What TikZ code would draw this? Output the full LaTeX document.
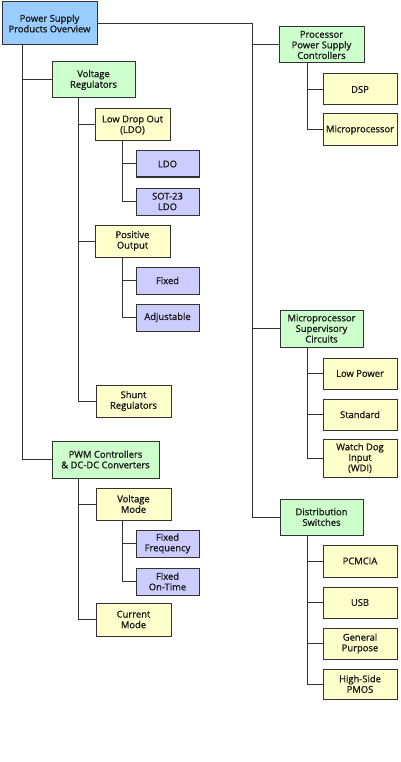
\documentclass[tikz,border=0pt]{standalone}
\usepackage{fontspec}
\setmainfont{Open Sans}[FakeBold=1.2]
\definecolor{cblue}{RGB}{153,204,255}
\definecolor{cgreen}{RGB}{204,255,204}
\definecolor{cyel}{RGB}{255,255,204}
\definecolor{cvio}{RGB}{204,204,255}
\definecolor{cline}{RGB}{50,50,50}
\definecolor{cbord}{RGB}{50,50,50}
\begin{document}
\begin{tikzpicture}[x=1pt,y=-1pt,
  box/.style={draw=cbord,line width=1pt,inner sep=0pt,align=center,
    font=\fontsize{9.4}{10.6}\selectfont,text=black!90},
  conn/.style={draw=cline,line width=1pt}]
\useasboundingbox[fill=white] (0,0) rectangle (400,762);
% left tree
\node[box,fill=cblue,minimum width=95,minimum height=43] (root) at (49.5,23.5) {Power Supply\\Products Overview};
\node[box,fill=cgreen,minimum width=83,minimum height=36] (vr) at (93.5,80) {Voltage\\Regulators};
\node[box,fill=cyel,minimum width=75,minimum height=32] (ldog) at (132.5,125) {Low Drop Out\\(LDO)};
\node[box,fill=cvio,minimum width=63,minimum height=26] (ldo) at (167.5,164) {LDO};
\node[box,fill=cvio,minimum width=63,minimum height=27] (sot) at (167.5,201.5) {SOT-23\\LDO};
\node[box,fill=cyel,minimum width=75,minimum height=32] (po) at (132.5,241) {Positive\\Output};
\node[box,fill=cvio,minimum width=63,minimum height=27] (fixed) at (167.5,280.5) {Fixed};
\node[box,fill=cvio,minimum width=63,minimum height=27] (adj) at (167.5,317.5) {Adjustable};
\node[box,fill=cyel,minimum width=75,minimum height=32] (shunt) at (133.5,401) {Shunt\\Regulators};
\node[box,fill=cgreen,minimum width=107,minimum height=37] (pwm) at (105.5,459.5) {PWM Controllers\\\& DC-DC Converters};
\node[box,fill=cyel,minimum width=75,minimum height=32] (vm) at (133.5,504) {Voltage\\Mode};
\node[box,fill=cvio,minimum width=63,minimum height=27] (ff) at (167.5,543.5) {Fixed\\Frequency};
\node[box,fill=cvio,minimum width=63,minimum height=27] (fot) at (167.5,581.5) {Fixed\\On-Time};
\node[box,fill=cyel,minimum width=75,minimum height=33] (cm) at (133.5,619.5) {Current\\Mode};
% right tree
\node[box,fill=cgreen,minimum width=85,minimum height=36] (ppsc) at (321.5,45) {Processor\\Power Supply\\Controllers};
\node[box,fill=cyel,minimum width=74,minimum height=31] (dsp) at (360,89.5) {DSP};
\node[box,fill=cyel,minimum width=74,minimum height=32] (micro) at (360,130) {Microprocessor};
\node[box,fill=cgreen,minimum width=83,minimum height=37] (msc) at (321.5,328.5) {Microprocessor\\Supervisory\\Circuits};
\node[box,fill=cyel,minimum width=74,minimum height=31] (lp) at (360,373.5) {Low Power};
\node[box,fill=cyel,minimum width=74,minimum height=31] (std) at (360,414.5) {Standard};
\node[box,fill=cyel,minimum width=74,minimum height=38] (wdi) at (360,458) {Watch Dog\\Input\\(WDI)};
\node[box,fill=cgreen,minimum width=83,minimum height=36] (ds) at (321.5,517) {Distribution\\Switches};
\node[box,fill=cyel,minimum width=74,minimum height=32] (pcm) at (360,561) {PCMCIA};
\node[box,fill=cyel,minimum width=74,minimum height=31] (usb) at (360,602.5) {USB};
\node[box,fill=cyel,minimum width=74,minimum height=31] (gp) at (360,643.5) {General\\Purpose};
\node[box,fill=cyel,minimum width=74,minimum height=30] (hs) at (360,684) {High-Side\\PMOS};
% connectors
\coordinate (trunk) at (252,23.5);
\draw[conn] ([xshift=21pt]root.south west) |- (vr.west);
\draw[conn] ([xshift=21pt]root.south west) |- (pwm.west);
\draw[conn] ([xshift=27pt]vr.south west) |- (ldog.west);
\draw[conn] ([xshift=27pt]vr.south west) |- (po.west);
\draw[conn] ([xshift=27pt]vr.south west) |- (shunt.west);
\draw[conn] ([xshift=28pt]ldog.south west) |- (ldo.west);
\draw[conn] ([xshift=28pt]ldog.south west) |- (sot.west);
\draw[conn] ([xshift=28pt]po.south west) |- (fixed.west);
\draw[conn] ([xshift=28pt]po.south west) |- (adj.west);
\draw[conn] ([xshift=27pt]pwm.south west) |- (vm.west);
\draw[conn] ([xshift=27pt]pwm.south west) |- (cm.west);
\draw[conn] ([xshift=27pt]vm.south west) |- (ff.west);
\draw[conn] ([xshift=27pt]vm.south west) |- (fot.west);
\draw[conn] (root.east) -- (trunk) |- (ds.west);
\draw[conn] (trunk) |- (ppsc.west);
\draw[conn] (trunk) |- (msc.west);
\draw[conn] ([xshift=29pt]ppsc.south west) |- (dsp.west);
\draw[conn] ([xshift=29pt]ppsc.south west) |- (micro.west);
\draw[conn] ([xshift=28pt]msc.south west) |- (lp.west);
\draw[conn] ([xshift=28pt]msc.south west) |- (std.west);
\draw[conn] ([xshift=28pt]msc.south west) |- (wdi.west);
\draw[conn] ([xshift=28pt]ds.south west) |- (pcm.west);
\draw[conn] ([xshift=28pt]ds.south west) |- (usb.west);
\draw[conn] ([xshift=28pt]ds.south west) |- (gp.west);
\draw[conn] ([xshift=28pt]ds.south west) |- (hs.west);
\end{tikzpicture}
\end{document}
